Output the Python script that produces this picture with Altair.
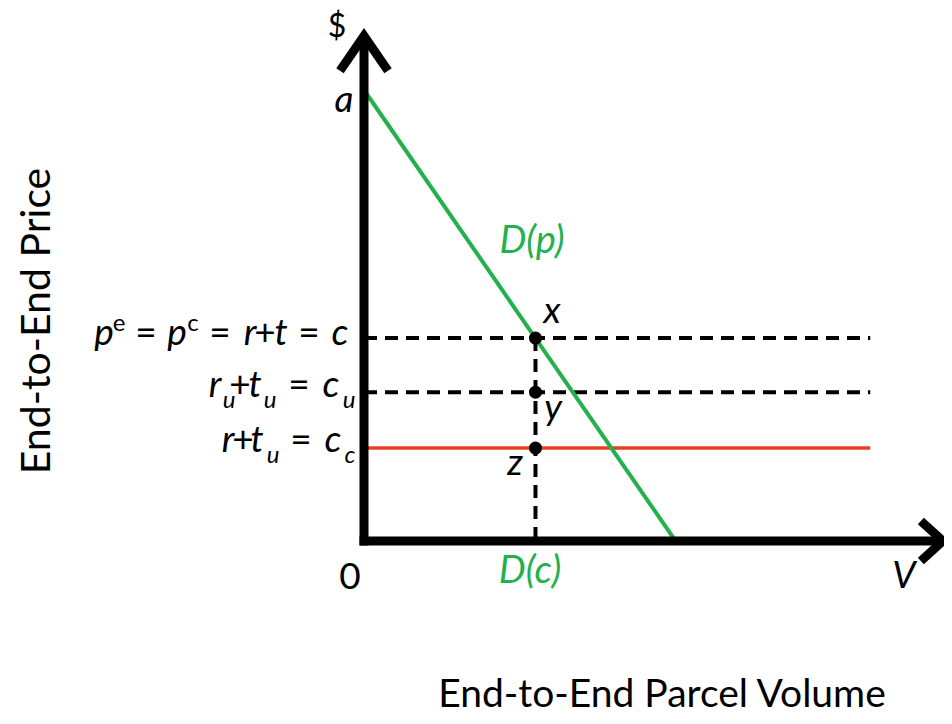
import altair as alt
import pandas as pd

# ---------------- values ----------------
choke_price = 100.0     # a  (demand intercept on the $ axis)
max_volume = 60.5       # demand intercept on the V axis
price_c = 45.0          # p^e = p^c = r+t = c
price_cu = 33.0         # r_u+t_u = c_u
price_cc = 20.6         # r+t_u = c_c
volume_dc = 33.3        # D(c)
line_end = 98.3         # right end of the horizontal cost lines
axis_top = 112.0        # top of the $ axis (arrow vertex)
axis_right = 112.4      # right end of the V axis (arrow vertex)

# ---------------- layout (pixel geometry of the figure) ----------------
W, H = 936, 708
OX, OY = 364, 541       # page position of the origin
KX, KY = 5.15, 4.51     # pixels per data unit
xs = alt.Scale(domain=[-(OX - 8) / KX, (W - (OX - 8)) / KX], nice=False, zero=False)
ys = alt.Scale(domain=[-(H - (OY - 8)) / KY, (OY - 8) / KY], nice=False, zero=False)


def V(px):
    return (px - OX) / KX


def P(py):
    return (OY - py) / KY


X = lambda f="x": alt.X(f"{f}:Q", scale=xs, axis=None)
Y = lambda f="y": alt.Y(f"{f}:Q", scale=ys, axis=None)

BLACK = "#000000"
GREEN = "#22B14C"
RED = "#E8401C"
FONT = "Lato"


def rules(rows, **style):
    df = pd.DataFrame(rows, columns=["x", "y", "x2", "y2"])
    return alt.Chart(df).mark_rule(**style).encode(
        x=X(), y=Y(), x2="x2:Q", y2="y2:Q"
    )


# axes
axes = rules(
    [[0, -1.0, 0, axis_top], [-0.87, 0, axis_right, 0]],
    color=BLACK, strokeWidth=9, strokeCap="butt",
)
up_arrow = alt.Chart(pd.DataFrame({"x": [0], "y": [axis_top]})).mark_point(
    shape="M -1 1.45 L 0 0 L 1 1.45", size=48 ** 2, filled=False,
    stroke=BLACK, strokeWidth=9, strokeJoin="miter", opacity=1,
).encode(x=X(), y=Y())
right_arrow = alt.Chart(pd.DataFrame({"x": [axis_right], "y": [0]})).mark_point(
    shape="M -1.1 -1 L 0 0 L -1.1 1", size=40 ** 2, filled=False,
    stroke=BLACK, strokeWidth=9, strokeJoin="miter", opacity=1,
).encode(x=X(), y=Y())

dashed = rules(
    [[0, price_c, line_end, price_c],
     [0, price_cu, line_end, price_cu],
     [volume_dc, price_c, volume_dc, 0]],
    color=BLACK, strokeWidth=4, strokeDash=[13, 8], strokeCap="butt",
)
red_line = rules([[0, price_cc, line_end, price_cc]], color=RED, strokeWidth=3.5)
demand = rules([[0, choke_price, max_volume, 0]], color=GREEN, strokeWidth=4)

dots = alt.Chart(pd.DataFrame({"x": [volume_dc] * 3,
                               "y": [price_c, price_cu, price_cc]})).mark_circle(
    size=170, color=BLACK, opacity=1).encode(x=X(), y=Y())


def texts(items, size, italic=False, color=BLACK, **kw):
    df = pd.DataFrame([{"t": t, "x": V(px), "y": P(py)} for t, px, py in items])
    return alt.Chart(df).mark_text(
        font=FONT, fontSize=size, fontStyle="italic" if italic else "normal",
        color=color, align="center", baseline="alphabetic", **kw
    ).encode(x=X(), y=Y(), text="t:N")


main_italic = texts([
    ("p", 104, 345), ("p", 177, 345), ("r", 250, 345), ("t", 281, 345), ("c", 340, 345),
    ("r", 215, 397), ("t", 255, 397), ("c", 331, 397),
    ("r", 228, 452), ("t", 257, 452), ("c", 333, 452),
    ("a", 344, 112), ("x", 552, 323), ("y", 553, 420), ("z", 515, 475), ("V", 904, 588),
], 37, italic=True)
main_upright = texts([
    ("=", 146, 345), ("=", 220, 345), ("+", 265, 345), ("=", 309, 345),
    ("+", 240, 397), ("=", 299, 397),
    ("+", 243, 452), ("=", 301, 452),
    ("0", 350, 589),
], 37)
dollar = texts([("$", 337, 37)], 32)
sups = texts([("e", 119, 331), ("c", 193, 331)], 24)
subs = texts([
    ("u", 229, 408), ("u", 270, 408), ("u", 349, 408),
    ("u", 273, 463), ("c", 350, 463),
], 24, italic=True)
green_text = texts([("D(p)", 532, 253), ("D(c)", 530, 583)], 38, italic=True, color=GREEN)
x_title = texts([("End-to-End Parcel Volume", 662, 707)], 39)
y_title = alt.Chart(pd.DataFrame({"t": ["End-to-End Price"], "x": [V(38)], "y": [P(321)]})).mark_text(
    font=FONT, fontSize=41, color=BLACK, align="center", baseline="middle", angle=270
).encode(x=X(), y=Y(), text="t:N")

chart = alt.layer(
    red_line, dashed, demand, axes, up_arrow, right_arrow, dots,
    main_italic, main_upright, dollar, sups, subs, green_text, x_title, y_title,
).properties(
    width=W, height=H, autosize=alt.AutoSizeParams(type="none"), padding=0,
    background="white",
).configure_view(stroke=None)

chart.save("out.html", embed_options={"renderer": "svg", "actions": False})
